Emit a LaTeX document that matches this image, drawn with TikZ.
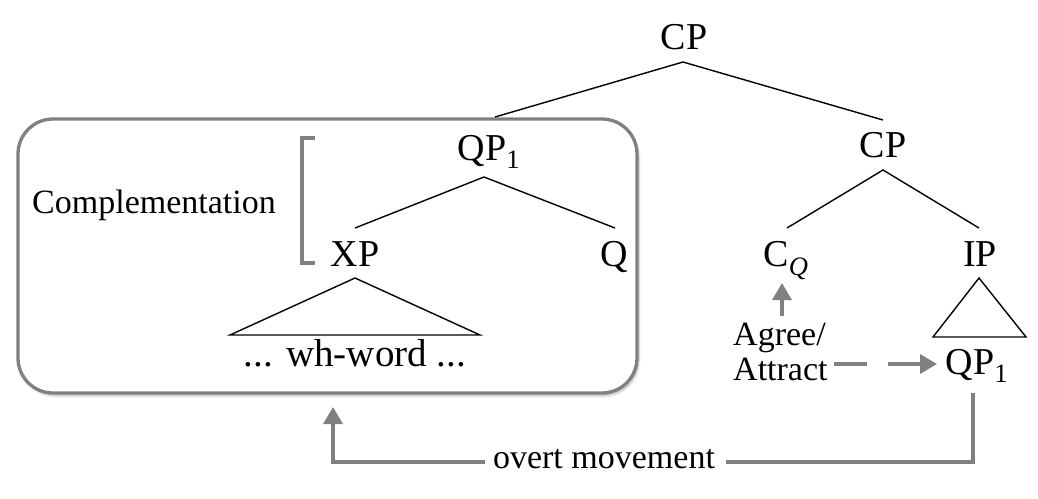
\documentclass[tikz,border=0pt]{standalone}
\usepackage{fontspec}
\setmainfont{Liberation Serif}
\usetikzlibrary{arrows.meta,shadows.blur}
\definecolor{gry}{RGB}{128,128,128}
\tikzset{
  treelab/.style={inner sep=0pt, anchor=base, font=\fontsize{38}{44}\selectfont},
  plain/.style={inner sep=0pt, anchor=base, font=\fontsize{34}{40}\selectfont},
  branch/.style={draw=black, line width=1.4pt},
  gline/.style={draw=gry, line width=3.5pt},
  garrow/.style={gline, -{Triangle[length=17pt,width=19pt]}},
}
\begin{document}
\begin{tikzpicture}[x=1pt,y=-1pt]
\useasboundingbox (0,0) rectangle (1038,498);
% box
\node[draw=gry, line width=3.3pt, fill=white, rounded corners=35pt, minimum width=619pt, minimum height=274pt, inner sep=0pt,
  blur shadow={shadow blur steps=8, shadow xshift=2pt, shadow yshift=-3pt, shadow opacity=25}] (box) at (327.5,256) {};
% tree labels
\node[treelab] (cp0) at (684,49) {CP};
\node[treelab] (qpl) at (489,160) {QP\textsubscript{1}};
\node[treelab] (cp1) at (883,157) {CP};
\node[treelab] (xp) at (355,266) {XP};
\node[treelab] (q) at (614,266) {Q};
\node[treelab] (cq) at (786,266) {C\textsubscript{\itshape Q}};
\node[treelab] (ip) at (980,266) {IP};
\node[treelab] (qpr) at (977,374) {QP\textsubscript{1}};
\node[plain, font=\fontsize{39}{44}\selectfont] (wh) at (355,366) {... wh-word ...};
\node[plain, anchor=base west] (comp) at (32,213) {Complementation};
\node[plain, anchor=base west] (ag) at (733,345) {Agree/};
\node[plain, anchor=base west] (at) at (733,380) {Attract};
\node[plain] (ovt) at (604,468) {overt movement};
% branch points
\coordinate (cp0b) at (683,62);
\coordinate (qplt) at (495,117);
\coordinate (cp1t) at (883,120);
\coordinate (qplb) at (484,177);
\coordinate (xpt) at (355,228);
\coordinate (qt) at (615,228);
\coordinate (cp1b) at (883,170);
\coordinate (cqt) at (787,228);
\coordinate (ipt) at (979,228);
\draw[branch] (qplt) -- (cp0b) -- (cp1t);
\draw[branch] (xpt) -- (qplb) -- (qt);
\draw[branch] (cqt) -- (cp1b) -- (ipt);
% triangles
\coordinate (xpa) at (355,278);
\coordinate (xpl) at (230,335);
\coordinate (xpr) at (480,335);
\draw[branch, line join=miter] (xpa) -- (xpl) -- (xpr) -- cycle;
\coordinate (ipa) at (979,278);
\coordinate (ipl) at (933,337);
\coordinate (ipr) at (1026,337);
\draw[branch, line join=miter] (ipa) -- (ipl) -- (ipr) -- cycle;
% bracket
\coordinate (brt) at (315,138);
\coordinate (brb) at (315,263);
\draw[gline] (brt) -- ++(-13,0) |- (brb);
% agree arrows
\coordinate (agup) at (782,316);
\coordinate (cqdn) at (782,283);
\draw[garrow] (agup) -- (cqdn);
\coordinate (dashs) at (834,364);
\coordinate (dashe) at (937,364);
\draw[garrow, dash pattern=on 33pt off 21pt] (dashs) -- (dashe);
% overt movement
\coordinate (mvr) at (973,393);
\coordinate (mvrc) at (726,462);
\coordinate (mvlc) at (485,462);
\coordinate (mvl) at (333,407);
\draw[gline] (mvr) |- (mvrc);
\draw[garrow] (mvlc) -| (mvl);
\end{tikzpicture}
\end{document}
